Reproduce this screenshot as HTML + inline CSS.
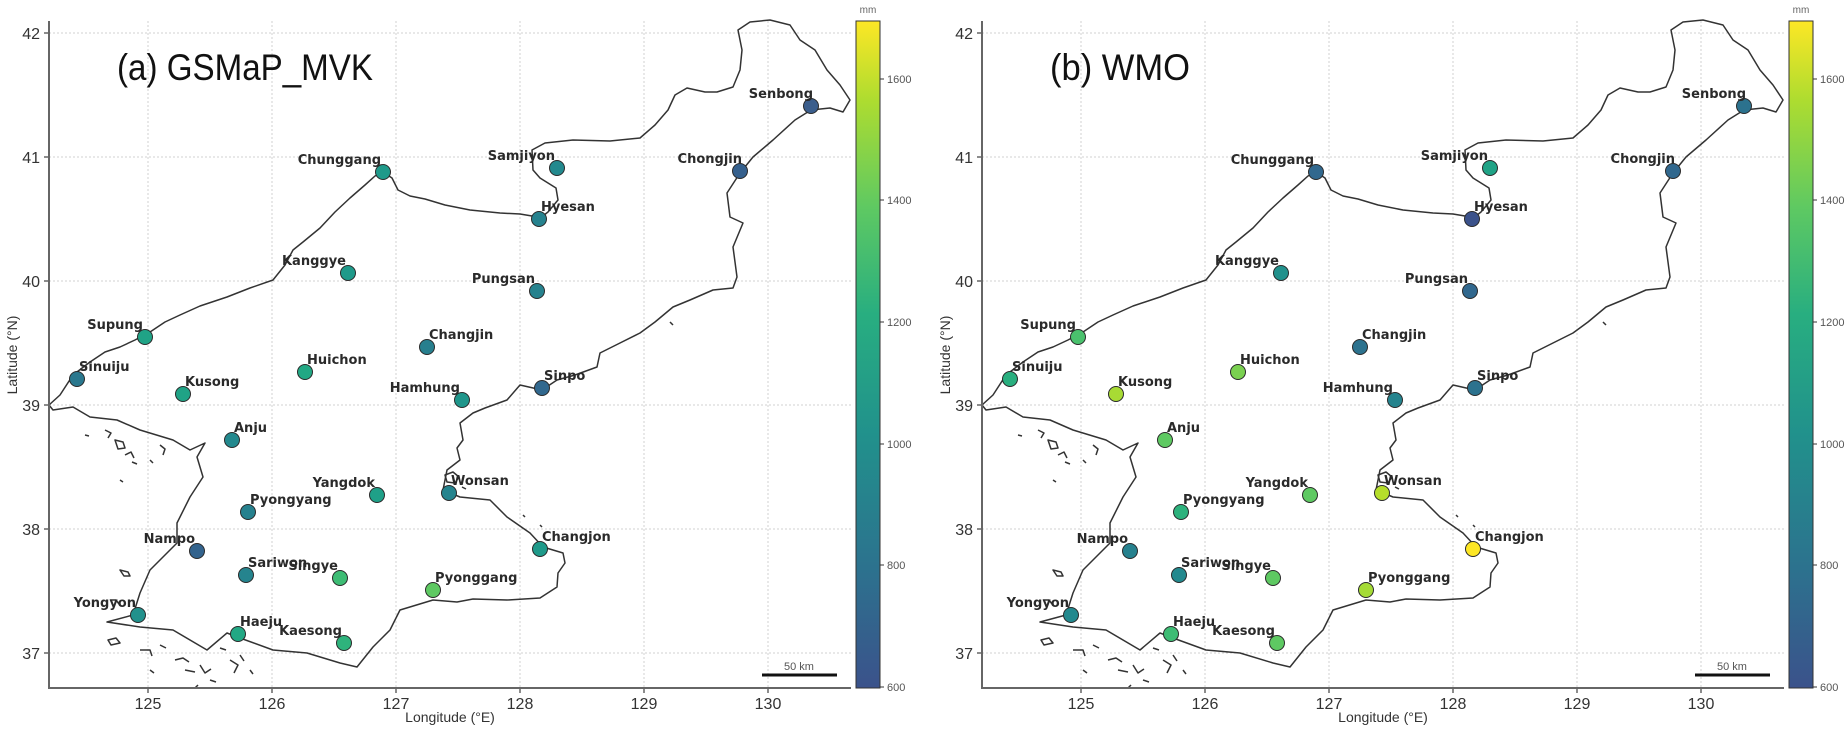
<!DOCTYPE html>
<html><head><meta charset="utf-8"><style>
html,body{margin:0;padding:0;background:#fff;}
svg{display:block;}
text{font-family:"Liberation Sans","DejaVu Sans",sans-serif;}
.lbl{font-family:"DejaVu Sans","Liberation Sans",sans-serif;font-weight:bold;font-size:13px;fill:#2a2a2a;}
.tk{font-size:16px;fill:#333;}
.cb{font-size:11px;fill:#555;}
.grid{stroke:#d0d0d0;stroke-width:1;stroke-dasharray:2,2;}
.coast{fill:none;stroke:#333;stroke-width:1.5;stroke-linejoin:round;}
circle{stroke:#2a2a2a;stroke-width:1;}
</style></head><body>
<svg width="1848" height="735" viewBox="0 0 1848 735" xmlns="http://www.w3.org/2000/svg">
<defs>
<linearGradient id="vir" x1="0" y1="1" x2="0" y2="0">
<stop offset="0" stop-color="#3b528b"/><stop offset="0.18" stop-color="#2c728e"/><stop offset="0.38" stop-color="#21918c"/><stop offset="0.56" stop-color="#28ae80"/><stop offset="0.72" stop-color="#5ec962"/><stop offset="0.88" stop-color="#addc30"/><stop offset="1" stop-color="#fde725"/>
</linearGradient>
<g id="base">
<g class="grid">
<line x1="148" y1="21" x2="148" y2="688"/><line x1="272" y1="21" x2="272" y2="688"/><line x1="396" y1="21" x2="396" y2="688"/><line x1="520" y1="21" x2="520" y2="688"/><line x1="644" y1="21" x2="644" y2="688"/><line x1="768" y1="21" x2="768" y2="688"/>
<line x1="49" y1="33" x2="851" y2="33"/><line x1="49" y1="157" x2="851" y2="157"/><line x1="49" y1="281" x2="851" y2="281"/><line x1="49" y1="405" x2="851" y2="405"/><line x1="49" y1="529" x2="851" y2="529"/><line x1="49" y1="653" x2="851" y2="653"/>
</g>
<path class="coast" d="M49,405 L60,395 L73,375 L90,362 L105,352 L120,347 L135,340 L150,332 L165,322 L180,315 L200,306 L227,297 L250,288 L273,280 L285,265 L293,250 L303,242 L320,228 L335,212 L350,198 L365,185 L375,176 L383,172 L392,178 L398,190 L410,196 L425,199 L445,205 L470,210 L500,213 L520,214 L532,216 L539,219 L548,212 L558,200 L556,188 L540,178 L533,170 L532,150 L545,143 L573,140 L610,141 L640,138 L655,125 L668,110 L675,95 L687,88 L705,92 L717,92 L733,87 L740,70 L742,50 L738,30 L750,22 L770,20 L790,25 L800,40 L815,50 L827,70 L840,85 L850,100 L843,112 L830,108 L811,110 L795,120 L773,140 L753,157 L740,173 L727,193 L730,217 L743,223 L733,247 L737,277 L733,288 L713,290 L690,300 L673,307 L655,322 L640,333 L620,343 L600,353 L597,367 L575,375 L557,380 L542,390 L520,385 L507,400 L485,408 L473,413 L460,423 L463,440 L457,448 L460,460 L447,470 L443,490 L460,497 L490,500 L507,517 L530,533 L543,547 L563,553 L565,563 L558,573 L557,587 L540,598 L507,600 L473,599 L457,602 L433,600 L400,610 L390,630 L373,647 L357,667 L340,663 L307,653 L273,650 L240,638 L227,633 L207,650 L173,630 L140,627 L107,622 L133,615 L140,593 L150,570 L163,557 L177,543 L177,523 L190,497 L203,477 L197,457 L205,443 L190,450 L173,440 L140,430 L117,420 L90,417 L73,407 L53,410 L49,405"/>
<g class="coast" stroke-width="1.3">
<path d="M105,430 l6,3 l-3,5 M115,440 l8,2 l2,6 l-7,1z M125,455 l6,-3 l3,6 M132,462 l5,2 M85,435 l4,1 M160,445 l5,4 l-2,6 M150,460 l3,3 M120,480 l3,2"/>
<path d="M120,570 l8,2 l2,4 l-6,0z M110,600 l6,0 l3,4 M108,640 l8,-2 l4,5 l-9,2z M140,650 l10,0 l2,6 M160,645 l6,3 M175,660 l8,-2 l6,4 M185,670 l10,2 M200,665 l5,8 l6,-4 M210,680 l6,2 M150,670 l4,3 M230,660 l8,5 l-4,8 M220,648 l6,2 M240,655 l4,6 M250,670 l3,4 M195,688 l3,-3"/>
<path d="M445,475 l8,-3 l6,5 l-4,6 l-8,-1z M462,487 l4,2 M523,515 l2,2 M670,322 l3,3 M540,525 l2,2"/>
</g>
<line x1="49" y1="21" x2="49" y2="688" stroke="#666" stroke-width="2"/>
<line x1="48" y1="688" x2="851" y2="688" stroke="#666" stroke-width="2"/>
<g stroke="#666" stroke-width="1.5">
<line x1="44" y1="33" x2="49" y2="33"/><line x1="44" y1="157" x2="49" y2="157"/><line x1="44" y1="281" x2="49" y2="281"/><line x1="44" y1="405" x2="49" y2="405"/><line x1="44" y1="529" x2="49" y2="529"/><line x1="44" y1="653" x2="49" y2="653"/>
<line x1="148" y1="688" x2="148" y2="693"/><line x1="272" y1="688" x2="272" y2="693"/><line x1="396" y1="688" x2="396" y2="693"/><line x1="520" y1="688" x2="520" y2="693"/><line x1="644" y1="688" x2="644" y2="693"/><line x1="768" y1="688" x2="768" y2="693"/>
</g>
<line x1="762" y1="675" x2="837" y2="675" stroke="#111" stroke-width="3"/>
<rect x="856" y="21" width="24" height="667" fill="url(#vir)" stroke="#333" stroke-width="1"/>
<g stroke="#333" stroke-width="1"><line x1="880" y1="687" x2="884" y2="687"/><line x1="880" y1="565" x2="884" y2="565"/><line x1="880" y1="444" x2="884" y2="444"/><line x1="880" y1="322" x2="884" y2="322"/><line x1="880" y1="200" x2="884" y2="200"/><line x1="880" y1="79" x2="884" y2="79"/></g>
</g>
</defs>

<use href="#base"/>
<g>
<text class="tk" x="40" y="39" text-anchor="end">42</text><text class="tk" x="40" y="163" text-anchor="end">41</text><text class="tk" x="40" y="287" text-anchor="end">40</text><text class="tk" x="40" y="411" text-anchor="end">39</text><text class="tk" x="40" y="535" text-anchor="end">38</text><text class="tk" x="40" y="659" text-anchor="end">37</text>
<text class="tk" x="148" y="709" text-anchor="middle">125</text><text class="tk" x="272" y="709" text-anchor="middle">126</text><text class="tk" x="396" y="709" text-anchor="middle">127</text><text class="tk" x="520" y="709" text-anchor="middle">128</text><text class="tk" x="644" y="709" text-anchor="middle">129</text><text class="tk" x="768" y="709" text-anchor="middle">130</text>
<text x="450" y="722" text-anchor="middle" font-size="14" fill="#333">Longitude (°E)</text>
<text transform="translate(17,355) rotate(-90)" text-anchor="middle" font-size="14" fill="#333">Latitude (°N)</text>
<text x="799" y="670" text-anchor="middle" font-size="11" fill="#555">50 km</text>
<text class="cb" x="887" y="691">600</text><text class="cb" x="887" y="569">800</text><text class="cb" x="887" y="448">1000</text><text class="cb" x="887" y="326">1200</text><text class="cb" x="887" y="204">1400</text><text class="cb" x="887" y="83">1600</text>
<text x="868" y="13" text-anchor="middle" font-size="10" fill="#666">mm</text>
<text x="117" y="80" font-size="37" fill="#111" textLength="256" lengthAdjust="spacingAndGlyphs">(a)  GSMaP_MVK</text>

<circle cx="811" cy="106" r="7.5" fill="#3b5e8c"/><text class="lbl" x="813" y="98" text-anchor="end">Senbong</text>
<circle cx="740" cy="171" r="7.5" fill="#35608d"/><text class="lbl" x="742" y="163" text-anchor="end">Chongjin</text>
<circle cx="557" cy="168" r="7.5" fill="#23898e"/><text class="lbl" x="555" y="160" text-anchor="end">Samjiyon</text>
<circle cx="383" cy="172" r="7.5" fill="#1f9a8a"/><text class="lbl" x="381" y="164" text-anchor="end">Chunggang</text>
<circle cx="539" cy="219" r="7.5" fill="#26828e"/><text class="lbl" x="541" y="211">Hyesan</text>
<circle cx="348" cy="273" r="7.5" fill="#1f9a8a"/><text class="lbl" x="346" y="265" text-anchor="end">Kanggye</text>
<circle cx="537" cy="291" r="7.5" fill="#26828e"/><text class="lbl" x="535" y="283" text-anchor="end">Pungsan</text>
<circle cx="145" cy="337" r="7.5" fill="#20a386"/><text class="lbl" x="143" y="329" text-anchor="end">Supung</text>
<circle cx="427" cy="347" r="7.5" fill="#277f8e"/><text class="lbl" x="429" y="339">Changjin</text>
<circle cx="305" cy="372" r="7.5" fill="#22a884"/><text class="lbl" x="307" y="364">Huichon</text>
<circle cx="77" cy="379" r="7.5" fill="#2a788e"/><text class="lbl" x="79" y="371">Sinuiju</text>
<circle cx="183" cy="394" r="7.5" fill="#20a386"/><text class="lbl" x="185" y="386">Kusong</text>
<circle cx="542" cy="388" r="7.5" fill="#31688e"/><text class="lbl" x="544" y="380">Sinpo</text>
<circle cx="462" cy="400" r="7.5" fill="#1f968b"/><text class="lbl" x="460" y="392" text-anchor="end">Hamhung</text>
<circle cx="232" cy="440" r="7.5" fill="#23898e"/><text class="lbl" x="234" y="432">Anju</text>
<circle cx="377" cy="495" r="7.5" fill="#1fa088"/><text class="lbl" x="375" y="487" text-anchor="end">Yangdok</text>
<circle cx="449" cy="493" r="7.5" fill="#25848e"/><text class="lbl" x="451" y="485">Wonsan</text>
<circle cx="248" cy="512" r="7.5" fill="#26818e"/><text class="lbl" x="250" y="504">Pyongyang</text>
<circle cx="540" cy="549" r="7.5" fill="#1f9a8a"/><text class="lbl" x="542" y="541">Changjon</text>
<circle cx="197" cy="551" r="7.5" fill="#33638d"/><text class="lbl" x="195" y="543" text-anchor="end">Nampo</text>
<circle cx="246" cy="575" r="7.5" fill="#25848e"/><text class="lbl" x="248" y="567">Sariwon</text>
<circle cx="340" cy="578" r="7.5" fill="#3dbc74"/><text class="lbl" x="338" y="570" text-anchor="end">Singye</text>
<circle cx="433" cy="590" r="7.5" fill="#5ec962"/><text class="lbl" x="435" y="582">Pyonggang</text>
<circle cx="138" cy="615" r="7.5" fill="#21918c"/><text class="lbl" x="136" y="607" text-anchor="end">Yongyon</text>
<circle cx="238" cy="634" r="7.5" fill="#22a884"/><text class="lbl" x="240" y="626">Haeju</text>
<circle cx="344" cy="643" r="7.5" fill="#2eb37c"/><text class="lbl" x="342" y="635" text-anchor="end">Kaesong</text>
</g>

<use href="#base" transform="translate(933,0)"/>
<g transform="translate(933,0)">
<text class="tk" x="40" y="39" text-anchor="end">42</text><text class="tk" x="40" y="163" text-anchor="end">41</text><text class="tk" x="40" y="287" text-anchor="end">40</text><text class="tk" x="40" y="411" text-anchor="end">39</text><text class="tk" x="40" y="535" text-anchor="end">38</text><text class="tk" x="40" y="659" text-anchor="end">37</text>
<text class="tk" x="148" y="709" text-anchor="middle">125</text><text class="tk" x="272" y="709" text-anchor="middle">126</text><text class="tk" x="396" y="709" text-anchor="middle">127</text><text class="tk" x="520" y="709" text-anchor="middle">128</text><text class="tk" x="644" y="709" text-anchor="middle">129</text><text class="tk" x="768" y="709" text-anchor="middle">130</text>
<text x="450" y="722" text-anchor="middle" font-size="14" fill="#333">Longitude (°E)</text>
<text transform="translate(17,355) rotate(-90)" text-anchor="middle" font-size="14" fill="#333">Latitude (°N)</text>
<text x="799" y="670" text-anchor="middle" font-size="11" fill="#555">50 km</text>
<text class="cb" x="887" y="691">600</text><text class="cb" x="887" y="569">800</text><text class="cb" x="887" y="448">1000</text><text class="cb" x="887" y="326">1200</text><text class="cb" x="887" y="204">1400</text><text class="cb" x="887" y="83">1600</text>
<text x="868" y="13" text-anchor="middle" font-size="10" fill="#666">mm</text>
<text x="117" y="80" font-size="37" fill="#111" textLength="140" lengthAdjust="spacingAndGlyphs">(b)  WMO</text>

<circle cx="811" cy="106" r="7.5" fill="#2c728e"/><text class="lbl" x="813" y="98" text-anchor="end">Senbong</text>
<circle cx="740" cy="171" r="7.5" fill="#31688e"/><text class="lbl" x="742" y="163" text-anchor="end">Chongjin</text>
<circle cx="557" cy="168" r="7.5" fill="#20a386"/><text class="lbl" x="555" y="160" text-anchor="end">Samjiyon</text>
<circle cx="383" cy="172" r="7.5" fill="#31688e"/><text class="lbl" x="381" y="164" text-anchor="end">Chunggang</text>
<circle cx="539" cy="219" r="7.5" fill="#3b528b"/><text class="lbl" x="541" y="211">Hyesan</text>
<circle cx="348" cy="273" r="7.5" fill="#21918c"/><text class="lbl" x="346" y="265" text-anchor="end">Kanggye</text>
<circle cx="537" cy="291" r="7.5" fill="#31688e"/><text class="lbl" x="535" y="283" text-anchor="end">Pungsan</text>
<circle cx="145" cy="337" r="7.5" fill="#4ac16d"/><text class="lbl" x="143" y="329" text-anchor="end">Supung</text>
<circle cx="427" cy="347" r="7.5" fill="#2c728e"/><text class="lbl" x="429" y="339">Changjin</text>
<circle cx="305" cy="372" r="7.5" fill="#7ad151"/><text class="lbl" x="307" y="364">Huichon</text>
<circle cx="77" cy="379" r="7.5" fill="#29af7f"/><text class="lbl" x="79" y="371">Sinuiju</text>
<circle cx="183" cy="394" r="7.5" fill="#a8db34"/><text class="lbl" x="185" y="386">Kusong</text>
<circle cx="542" cy="388" r="7.5" fill="#2c728e"/><text class="lbl" x="544" y="380">Sinpo</text>
<circle cx="462" cy="400" r="7.5" fill="#25848e"/><text class="lbl" x="460" y="392" text-anchor="end">Hamhung</text>
<circle cx="232" cy="440" r="7.5" fill="#5ec962"/><text class="lbl" x="234" y="432">Anju</text>
<circle cx="377" cy="495" r="7.5" fill="#5ec962"/><text class="lbl" x="375" y="487" text-anchor="end">Yangdok</text>
<circle cx="449" cy="493" r="7.5" fill="#b5de2b"/><text class="lbl" x="451" y="485">Wonsan</text>
<circle cx="248" cy="512" r="7.5" fill="#2db27d"/><text class="lbl" x="250" y="504">Pyongyang</text>
<circle cx="540" cy="549" r="7.5" fill="#fde725"/><text class="lbl" x="542" y="541">Changjon</text>
<circle cx="197" cy="551" r="7.5" fill="#26818e"/><text class="lbl" x="195" y="543" text-anchor="end">Nampo</text>
<circle cx="246" cy="575" r="7.5" fill="#23898e"/><text class="lbl" x="248" y="567">Sariwon</text>
<circle cx="340" cy="578" r="7.5" fill="#5ec962"/><text class="lbl" x="338" y="570" text-anchor="end">Singye</text>
<circle cx="433" cy="590" r="7.5" fill="#a5db36"/><text class="lbl" x="435" y="582">Pyonggang</text>
<circle cx="138" cy="615" r="7.5" fill="#23898e"/><text class="lbl" x="136" y="607" text-anchor="end">Yongyon</text>
<circle cx="238" cy="634" r="7.5" fill="#3dbc74"/><text class="lbl" x="240" y="626">Haeju</text>
<circle cx="344" cy="643" r="7.5" fill="#5ec962"/><text class="lbl" x="342" y="635" text-anchor="end">Kaesong</text>
</g>
</svg>
</body></html>
